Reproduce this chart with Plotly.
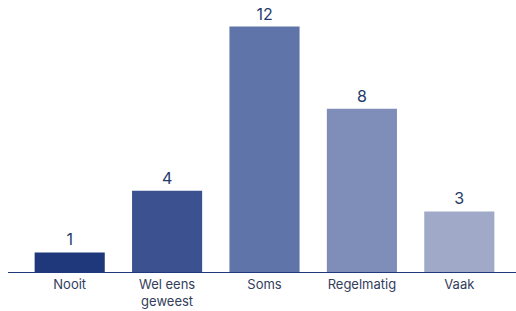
import plotly.graph_objects as go

categories = ["Nooit", "Wel eens<br>geweest", "Soms", "Regelmatig", "Vaak"]
values = [1, 4, 12, 8, 3]
colors = ["#1f387c", "#3c5290", "#5f74a8", "#7e8eb8", "#a0aac8"]

fig = go.Figure(go.Bar(
    x=categories, y=values,
    marker=dict(color=colors, line=dict(width=0)),
    text=[str(v) for v in values], textposition="outside",
    textfont=dict(size=16, color="#253a6a", family="Inter"),
    cliponaxis=False,
))

W, H = 516, 311
ml, mr, mt, mb = 21, 8, 6, 38
pw = W - ml - mr
fig.update_layout(
    width=W, height=H,
    margin=dict(l=ml, r=mr, t=mt, b=mb, autoexpand=False),
    paper_bgcolor="white", plot_bgcolor="white",
    bargap=0.28, showlegend=False,
    font=dict(family="Inter", color="#333d5c"),
    xaxis=dict(showgrid=False, showline=False, zeroline=False, ticks="",
               tickfont=dict(size=13, color="#333d5c"), fixedrange=True,
               automargin=False, ticklabelstandoff=2),
    yaxis=dict(range=[0, 13], visible=False, fixedrange=True),
    shapes=[dict(type="line", xref="paper", yref="y",
                 x0=(8 - ml) / pw, x1=(516 - ml) / pw, y0=0, y1=0,
                 line=dict(color="#1f387c", width=2))],
)
fig.write_html("out.html", config={"displayModeBar": False},
               post_script="document.body.style.margin='0';")
